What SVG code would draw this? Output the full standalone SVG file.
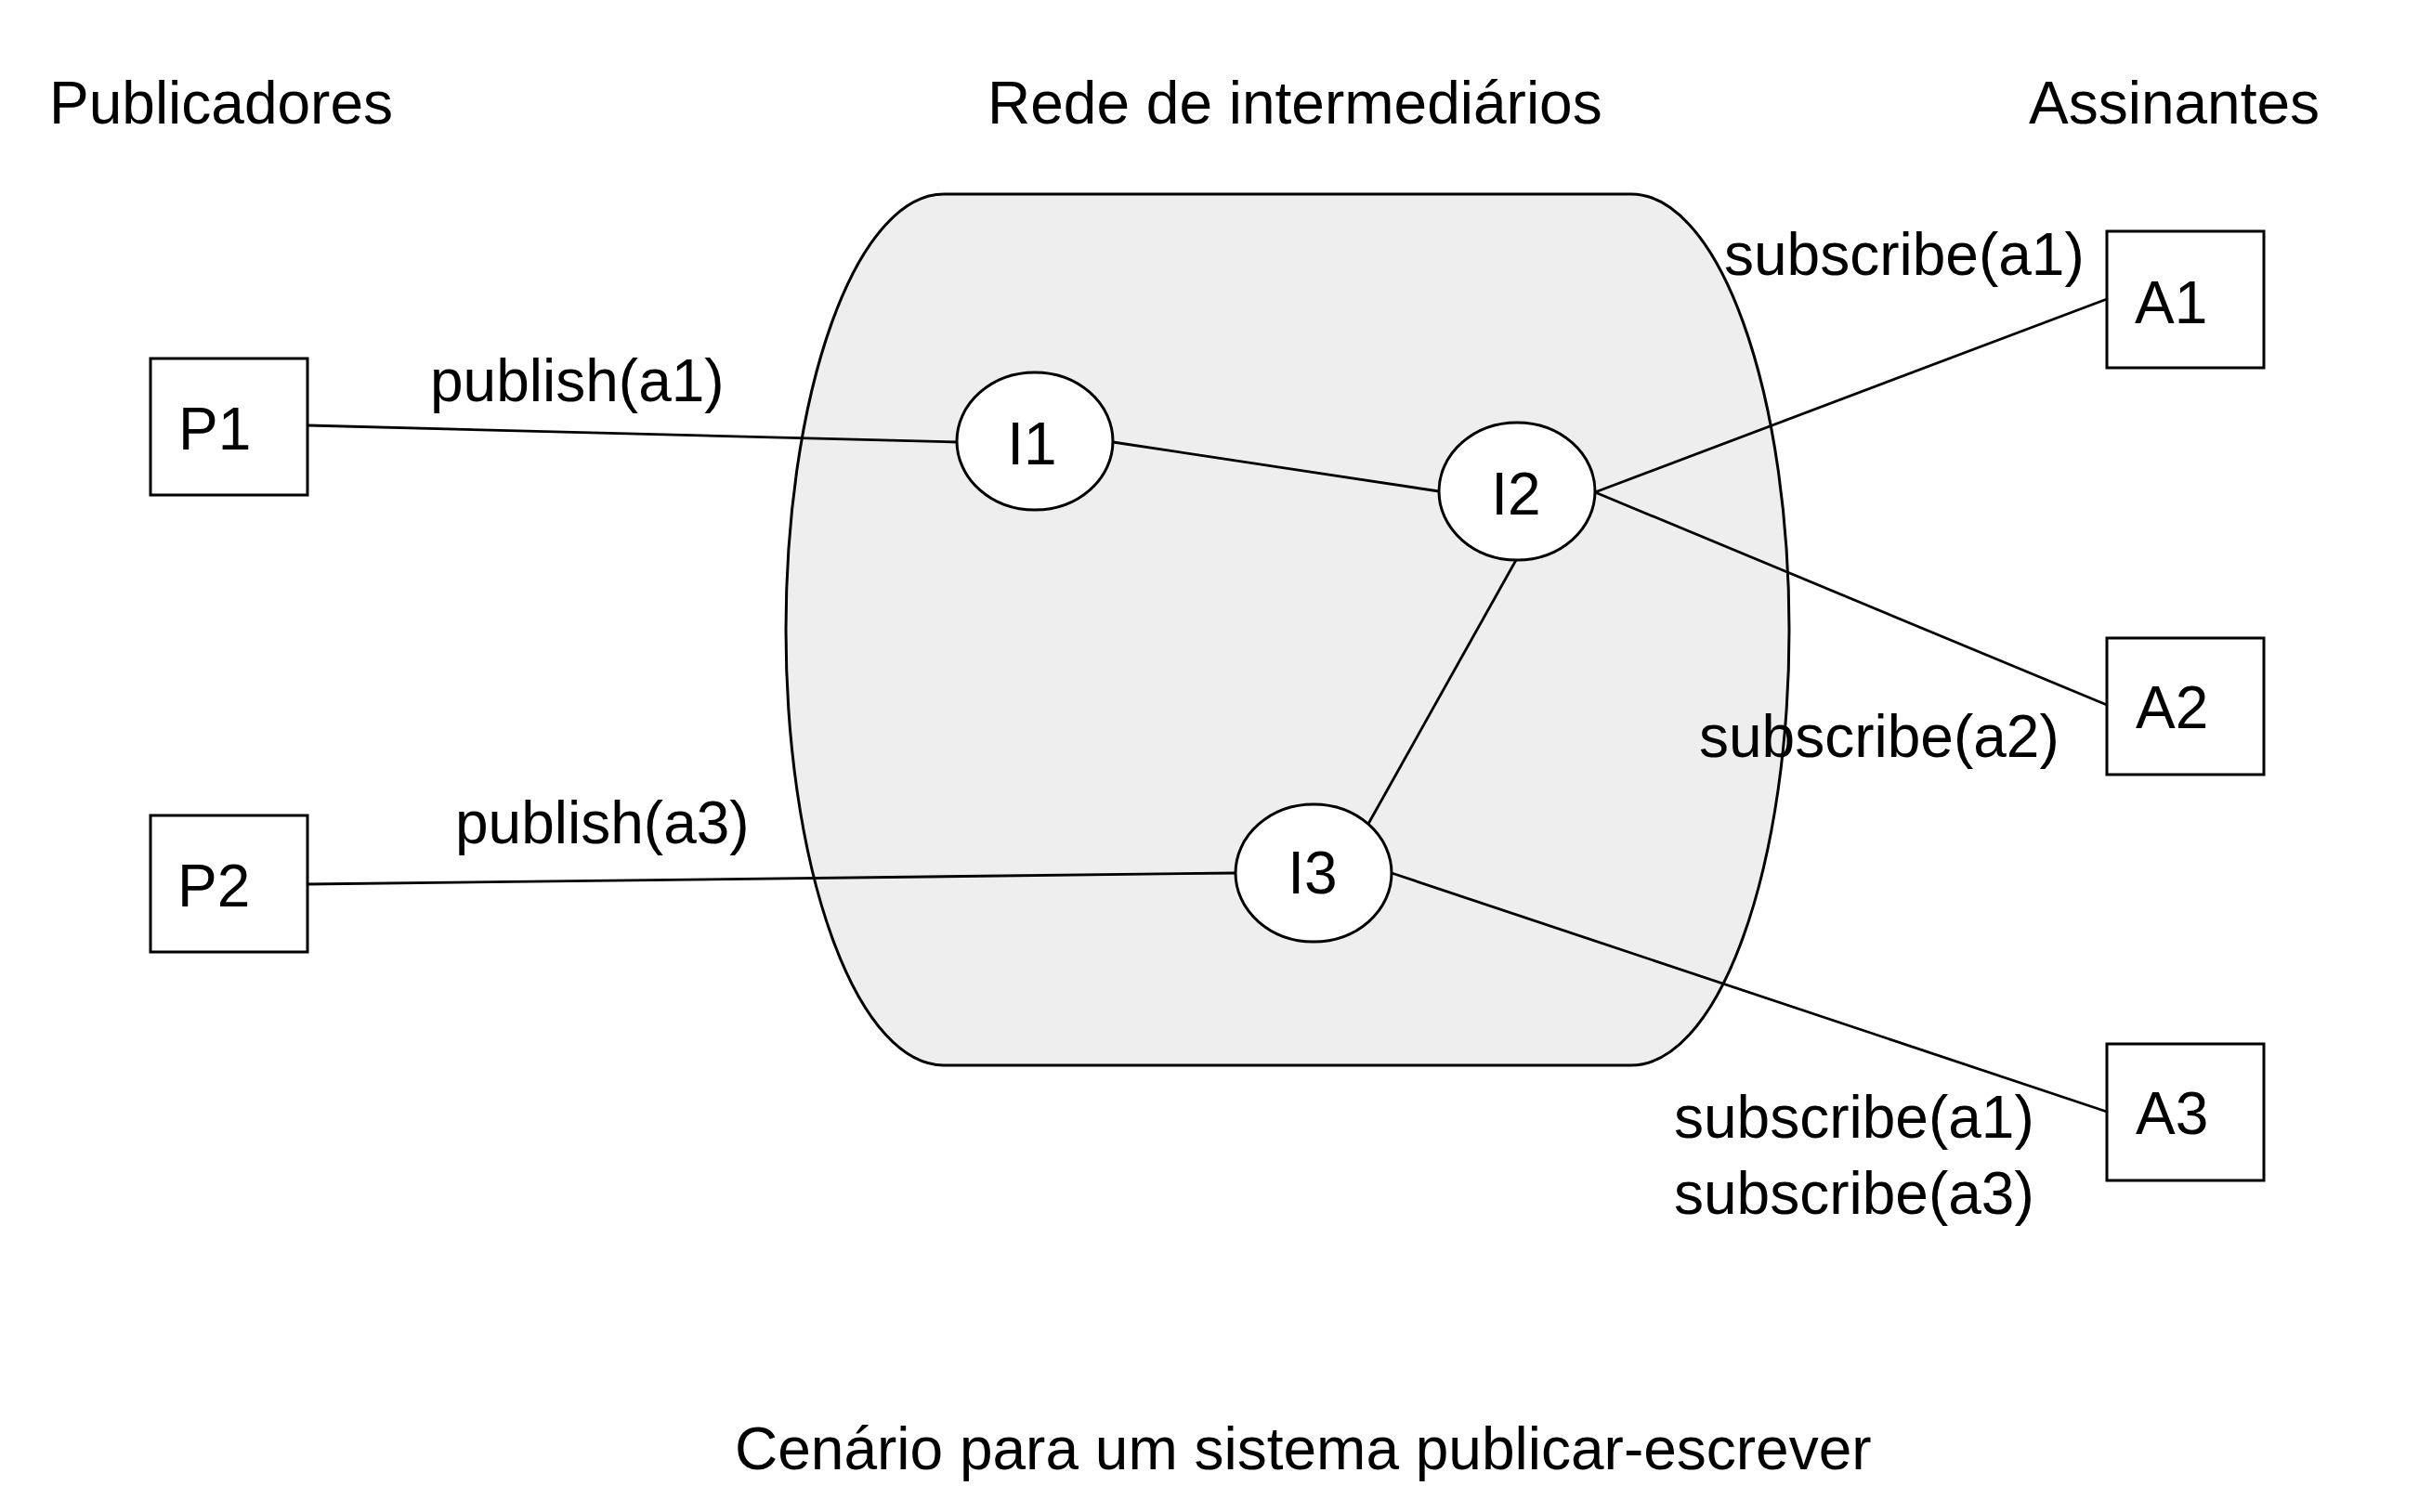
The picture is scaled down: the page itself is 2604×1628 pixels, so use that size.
<svg xmlns="http://www.w3.org/2000/svg" width="2604" height="1628" viewBox="0 0 2604 1628">
<style>
text{font-family:"Liberation Sans",Arial,sans-serif;font-size:64px;fill:#000}
.box{fill:#fff;stroke:#000;stroke-width:3}
.edge{fill:none;stroke:#000;stroke-width:2.8}
.mid{text-anchor:middle}
</style>
<rect width="2604" height="1628" fill="#fff"/>
<g id="titles">
<text x="53" y="133">Publicadores</text>
<text x="1063" y="133">Rede de intermediários</text>
<text x="2184" y="133">Assinantes</text>
<text x="791" y="1582">Cenário para um sistema publicar-escrever</text>
</g>
<g id="network">
<path d="M1016,209 H1756 A170,469 0 0 1 1756,1147 H1016 A170,469 0 0 1 1016,209 Z" fill="#eeeeee" stroke="#000" stroke-width="3"/>
</g>
<g id="connectors">
<line class="edge" x1="331" y1="458" x2="1030" y2="476"/>
<line class="edge" x1="331" y1="952" x2="1330" y2="940"/>
<line class="edge" x1="1198" y1="476" x2="1549" y2="529"/>
<line class="edge" x1="1632" y1="603" x2="1473" y2="887"/>
<line class="edge" x1="1717" y1="530" x2="2268" y2="322"/>
<line class="edge" x1="1717" y1="530" x2="2268" y2="759"/>
<line class="edge" x1="1498" y1="940" x2="2268" y2="1197"/>
<text x="463" y="432">publish(a1)</text>
<text x="490" y="908">publish(a3)</text>
<text x="1856" y="296">subscribe(a1)</text>
<text x="1829" y="815">subscribe(a2)</text>
<text x="1802" y="1225">subscribe(a1)</text>
<text x="1802" y="1307">subscribe(a3)</text>
</g>
<g id="P1"><rect class="box" x="162" y="386" width="169" height="147"/><text x="192" y="484">P1</text></g>
<g id="P2"><rect class="box" x="162" y="878" width="169" height="147"/><text x="191" y="976">P2</text></g>
<g id="I1"><ellipse class="box" cx="1114" cy="475" rx="84" ry="74"/><text class="mid" x="1111" y="500">I1</text></g>
<g id="I2"><ellipse class="box" cx="1633" cy="529" rx="84" ry="74"/><text class="mid" x="1632" y="554">I2</text></g>
<g id="I3"><ellipse class="box" cx="1414" cy="940" rx="84" ry="74"/><text class="mid" x="1413" y="962">I3</text></g>
<g id="A1"><rect class="box" x="2268" y="249" width="169" height="147"/><text x="2298" y="348">A1</text></g>
<g id="A2"><rect class="box" x="2268" y="687" width="169" height="147"/><text x="2299" y="784">A2</text></g>
<g id="A3"><rect class="box" x="2268" y="1124" width="169" height="147"/><text x="2299" y="1221">A3</text></g>
</svg>
